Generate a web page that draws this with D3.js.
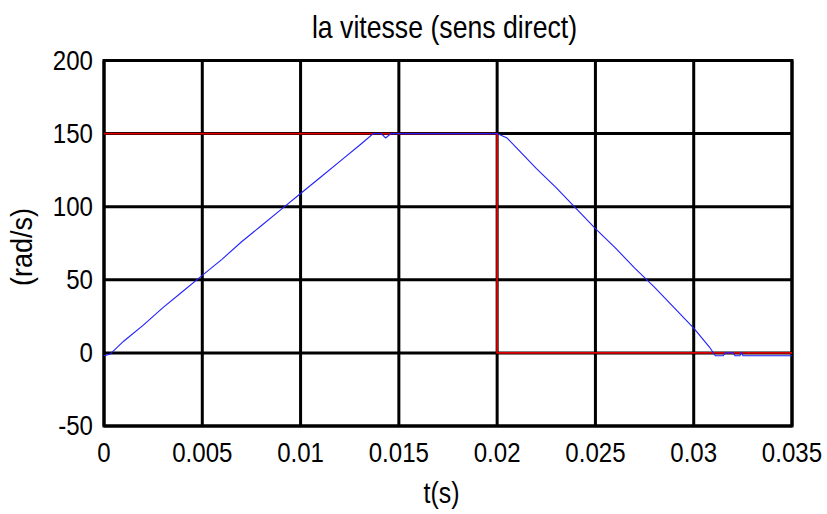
<!DOCTYPE html>
<html><head><meta charset="utf-8">
<script src="https://cdn.jsdelivr.net/npm/d3@7"></script>
<style>body{margin:0;background:#fff}svg{display:block}text{font-family:"Liberation Sans",Arial,sans-serif;fill:#000}</style>
</head><body>
<svg id="c" width="827" height="514"></svg>
<script>
const title = "la vitesse (sens direct)";
const xLabel = "t(s)";
const yLabel = "(rad/s)";
const xTicks = [0, 0.005, 0.01, 0.015, 0.02, 0.025, 0.03, 0.035];
const xTickLabels = ["0", "0.005", "0.01", "0.015", "0.02", "0.025", "0.03", "0.035"];
const yTicks = [-50, 0, 50, 100, 150, 200];
// reference (red)
const refT = [0, 0.02, 0.02, 0.035];
const refV = [150, 150, 0, 0];
// measured speed (blue)
const speedT = [0, 0.0003, 0.001, 0.002, 0.003, 0.004, 0.005, 0.006, 0.007, 0.008, 0.009, 0.010, 0.011, 0.012, 0.013, 0.0137, 0.0141, 0.01433, 0.0146, 0.016, 0.018, 0.0200, 0.0205, 0.021, 0.022, 0.023, 0.024, 0.025, 0.026, 0.027, 0.028, 0.029, 0.030, 0.0308, 0.0311, 0.0315, 0.0316, 0.0320, 0.0321, 0.03235, 0.0324, 0.03245, 0.0325, 0.035];
const speedV = [-2, -1, 8, 19, 31, 42, 53, 64, 76, 87, 98, 109, 120, 131, 142, 150, 150, 147, 150, 150, 150, 150, 147, 140, 126, 113, 99, 85, 72, 58, 45, 31, 17, 4, -2, -2, 0, 0, -2, -2, 0, 0, -2, -2];

const svg = d3.select("#c");
const L = 104, R = 792, T = 60.5, B = 426;
const x = d3.scaleLinear().domain([0, 0.035]).range([L, R]);
const y = d3.scaleLinear().domain([-50, 200]).range([B, T]);
const SX = 0.86;

// grid
const g = svg.append("g");
g.selectAll("line.vx").data(xTicks).join("line")
  .attr("x1", d => x(d)).attr("x2", d => x(d)).attr("y1", T).attr("y2", B)
  .attr("stroke", "#000").attr("stroke-width", 3);
g.selectAll("line.hy").data(yTicks).join("line")
  .attr("y1", d => y(d)).attr("y2", d => y(d)).attr("x1", L).attr("x2", R)
  .attr("stroke", "#000").attr("stroke-width", 3);
svg.append("rect").attr("x", L).attr("y", T).attr("width", R - L).attr("height", B - T)
  .attr("fill", "none").attr("stroke", "#000").attr("stroke-width", 3);

// tick labels
svg.selectAll("text.xt").data(xTicks).join("text")
  .attr("transform", d => `translate(${x(d)},462) scale(${SX},1)`).attr("text-anchor", "middle")
  .attr("font-size", 28).text((d, i) => xTickLabels[i]);
svg.selectAll("text.yt").data(yTicks).join("text")
  .attr("transform", d => `translate(93,${y(d) + 9}) scale(${SX},1)`).attr("text-anchor", "end")
  .attr("font-size", 28).text(d => d);

svg.append("text").attr("transform", `translate(444.5,38) scale(${SX},1)`).attr("text-anchor", "middle")
  .attr("font-size", 31).text(title);
svg.append("text").attr("transform", `translate(441.5,503) scale(${SX},1)`).attr("text-anchor", "middle")
  .attr("font-size", 29).text(xLabel);
svg.append("text").attr("transform", `translate(32,247) rotate(-90) scale(${SX + 0.04},1)`).attr("text-anchor", "middle")
  .attr("font-size", 30).text(yLabel);

const line = d3.line().x(d => x(d[0])).y(d => y(d[1]));
svg.append("path").datum(refT.map((t, i) => [t, refV[i]]))
  .attr("d", line).attr("fill", "none").attr("stroke", "#e00000").attr("stroke-width", 1.8);
svg.append("path").datum(speedT.map((t, i) => [t, speedV[i]]))
  .attr("d", line).attr("fill", "none").attr("stroke", "#2020ff").attr("stroke-width", 1.1);
</script>
</body></html>
